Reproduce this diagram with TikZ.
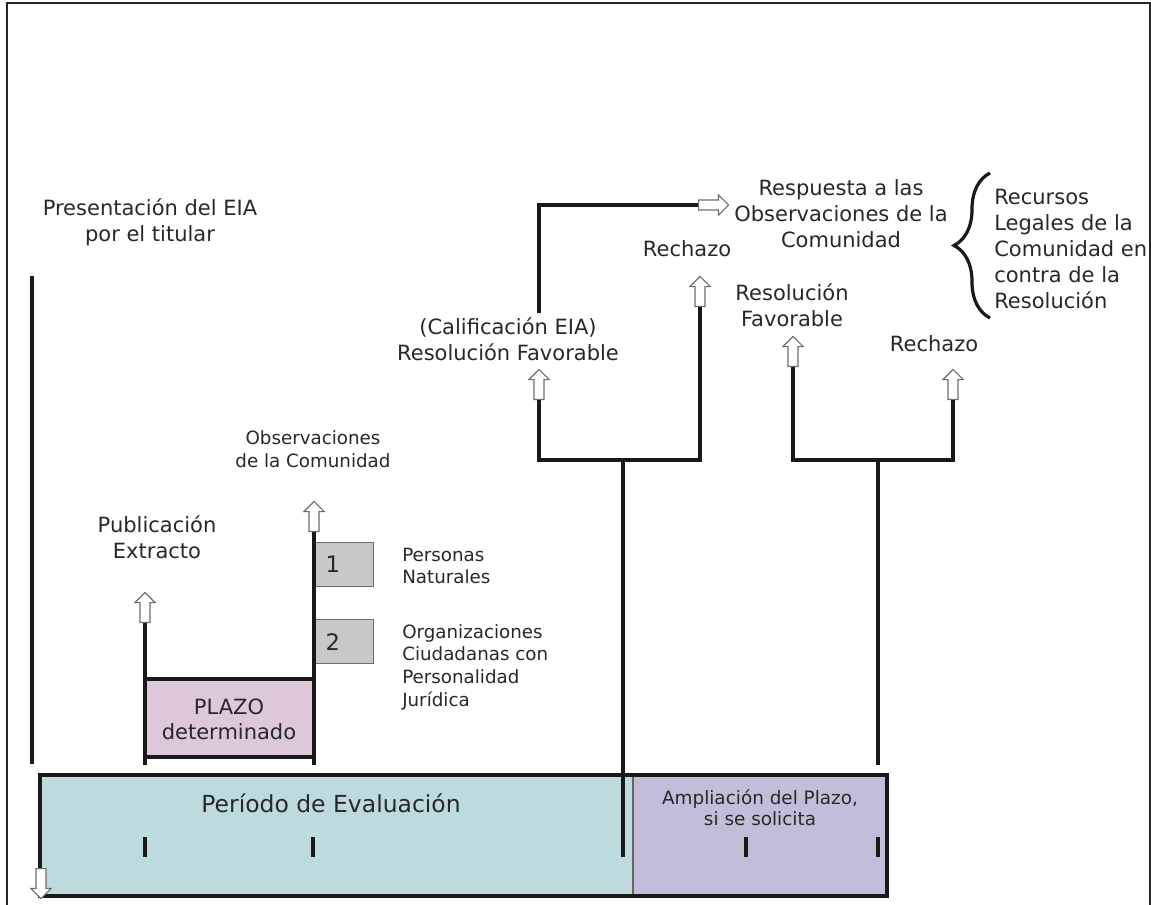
\documentclass[tikz,border=0pt]{standalone}
\usepackage{fontspec}
\setmainfont{DejaVu Sans}
\usepackage{xcolor}
\usetikzlibrary{shapes.arrows,decorations.pathreplacing}

\definecolor{txtgray}{RGB}{40,40,40}
\definecolor{arrgray}{RGB}{110,110,110}
\definecolor{evalteal}{RGB}{189,218,223}
\definecolor{amppurple}{RGB}{196,189,217}
\definecolor{plazopink}{RGB}{221,199,219}
\definecolor{boxgray}{RGB}{200,200,200}

\tikzset{
  lbl/.style={font=\fontsize{15.75}{19.5}\selectfont, text=txtgray, align=center, inner sep=0pt},
  lblsmall/.style={font=\fontsize{13.7}{17}\selectfont, text=txtgray, align=center, inner sep=0pt},
  uparr/.style={single arrow, draw=arrgray, fill=white, line width=0.9pt, inner sep=3.3pt,
    minimum height=22.5pt, single arrow head extend=3.9pt, shape border rotate=90},
  stem/.style={line width=2.6pt, draw=black!90},
  numbox/.style={draw=arrgray, fill=boxgray, line width=1pt, minimum height=33pt,
    text width=27pt, inner xsep=9pt, align=left, font=\fontsize{17}{19}\selectfont, text=txtgray},
}

\begin{document}
\begin{tikzpicture}[x=0.75pt,y=0.75pt,yscale=-1,xscale=1]
    \clip (0,0) rectangle (1151,905);
    \fill[white] (0,0) rectangle (1151,905);

    %Frame
    \draw[line width=1.6pt, draw=black!85] (7,912) -- (7,3) -- (1150,3) -- (1150,912);

    %Shape: Rectangle (evaluation period)
    \fill[evalteal] (40,775) rectangle (633,896);
    \fill[amppurple] (633,775) rectangle (887,896);
    \draw[line width=0.8pt, draw=black!60] (633,775) -- (633,896);
    \draw[line width=2.6pt, draw=black!90] (40,775) rectangle (887,896);

    %Shape: Rectangle (plazo)
    \fill[plazopink] (145,679) rectangle (313,757);
    \draw[stem] (145,679) -- (313,679);
    \draw[stem] (145,757) -- (313,757);

    % Text Node
    \node[lbl] (lPres) at (150,222) {Presentación del EIA\\por el titular};
    \node[lbl] (lPub) at (157,537) {Publicación\\Extracto};
    \node[lblsmall] (lObs) at (313,449) {Observaciones\\de la Comunidad};
    \node[lblsmall, anchor=west, align=left] (lPers) at (402,566) {Personas\\Naturales};
    \node[lblsmall, anchor=west, align=left] (lOrg) at (402,667) {Organizaciones\\Ciudadanas con\\Personalidad\\Jurídica};
    \node[lbl, font=\fontsize{15.75}{19}\selectfont] (lPlazo) at (229,719.5) {PLAZO\\determinado};
    \node[lbl, font=\fontsize{17.6}{21}\selectfont] (lEval) at (331,803) {Período de Evaluación};
    \node[lblsmall, font=\fontsize{13.8}{16}\selectfont] (lAmp) at (760,807.5) {Ampliación del Plazo,\\si se solicita};
    \node[lbl] (lCal) at (508,339.5) {(Calificación EIA)\\Resolución Favorable};
    \node[lbl] (lRe1) at (687,249) {Rechazo};
    \node[lbl] (lResp) at (841,214) {Respuesta a las\\Observaciones de la\\Comunidad};
    \node[lbl, anchor=west, align=left] (lRecur) at (994,248.5) {Recursos\\Legales de la\\Comunidad en\\contra de la\\Resolución};
    \node[lbl] (lRes2) at (792,305.5) {Resolución\\Favorable};
    \node[lbl] (lRe2) at (934,344) {Rechazo};

    %Boxes 1 and 2
    \node[numbox, anchor=north west] (b1) at (313,542) {1};
    \node[numbox, anchor=north west] (b2) at (313,619) {2};

    %Coordinates
    \coordinate (presT) at (32,276);
    \coordinate (presB) at (32,764);
    \coordinate (pubB) at (145,765);
    \coordinate (obsB) at (314,765);
    \coordinate (t1) at (623,460);
    \coordinate (t1B) at (623,857);
    \coordinate (t2) at (878,460);
    \coordinate (t2B) at (878,765);
    \coordinate (calT) at (539,313);
    \coordinate (loopC) at (539,205);

    %Arrows
    \node[uparr, anchor=tail] (aPub) at (145,623) {};
    \node[uparr, anchor=tail] (aObs) at (314,532) {};
    \node[uparr, anchor=tail] (aCal) at (539,400) {};
    \node[uparr, anchor=tail] (aRe1) at (700,307) {};
    \node[uparr, anchor=tail] (aRes2) at (793,367) {};
    \node[uparr, anchor=tail] (aRe2) at (953,400) {};
    \node[uparr, anchor=tail, shape border rotate=0] (aResp) at (698,205) {};

    %Straight Lines
    \draw[stem] (presT) -- (presB);
    \draw[stem] (aPub.tail) -- (pubB);
    \draw[stem] (aObs.tail) -- (obsB);
    \draw[stem] (aCal.tail) |- (t1) -| (aRe1.tail);
    \draw[stem] (t1) -- (t1B);
    \draw[stem] (aRes2.tail) |- (t2) -| (aRe2.tail);
    \draw[stem] (t2) -- (t2B);
    \draw[stem] (calT) -- (loopC) -- (aResp.tail);

    %Ticks
    \foreach \tx in {145,313,746,878}
      \draw[stem] (\tx,837) -- (\tx,857);

    %Start arrow
    \node[uparr, anchor=tail, shape border rotate=270] (aStart) at (41,868) {};

    %Brace
    \draw[line width=2.4pt, draw=black!90, decorate, decoration={brace, amplitude=27pt}] (990,318) -- (990,173);

\end{tikzpicture}
\end{document}
